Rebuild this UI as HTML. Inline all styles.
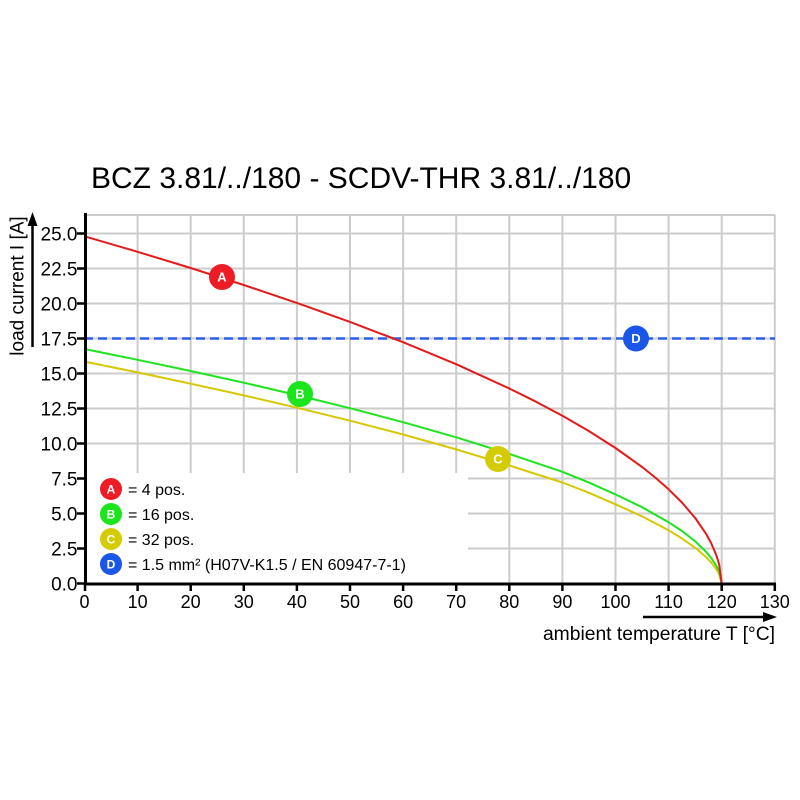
<!DOCTYPE html>
<html><head><meta charset="utf-8"><style>
html,body{margin:0;padding:0;background:#fff;}
svg{display:block;font-family:"Liberation Sans",Arial,sans-serif;}
</style></head><body>
<svg width="800" height="800" viewBox="0 0 800 800" xmlns="http://www.w3.org/2000/svg">
<rect width="800" height="800" fill="#fff"/>
<text x="91" y="188" font-size="30" fill="#000">BCZ 3.81/../180 - SCDV-THR 3.81/../180</text>
<g stroke="#cccccc" stroke-width="2" fill="none">
<line x1="84" y1="215" x2="775" y2="215"/>
<line x1="84" y1="233.5" x2="775" y2="233.5"/>
<line x1="84" y1="268.5" x2="775" y2="268.5"/>
<line x1="84" y1="303.5" x2="775" y2="303.5"/>
<line x1="84" y1="338.5" x2="775" y2="338.5"/>
<line x1="84" y1="373.5" x2="775" y2="373.5"/>
<line x1="84" y1="408.5" x2="775" y2="408.5"/>
<line x1="84" y1="443.5" x2="775" y2="443.5"/>
<line x1="468" y1="478.5" x2="775" y2="478.5"/>
<line x1="468" y1="513.5" x2="775" y2="513.5"/>
<line x1="468" y1="548.5" x2="775" y2="548.5"/>
<line x1="137.6" y1="215" x2="137.6" y2="473"/>
<line x1="190.7" y1="215" x2="190.7" y2="473"/>
<line x1="243.8" y1="215" x2="243.8" y2="473"/>
<line x1="296.9" y1="215" x2="296.9" y2="473"/>
<line x1="350" y1="215" x2="350" y2="473"/>
<line x1="403.1" y1="215" x2="403.1" y2="473"/>
<line x1="456.2" y1="215" x2="456.2" y2="473"/>
<line x1="509.3" y1="215" x2="509.3" y2="584"/>
<line x1="562.4" y1="215" x2="562.4" y2="584"/>
<line x1="615.5" y1="215" x2="615.5" y2="584"/>
<line x1="668.6" y1="215" x2="668.6" y2="584"/>
<line x1="721.7" y1="215" x2="721.7" y2="584"/>
<line x1="774.8" y1="215" x2="774.8" y2="584"/>
</g>
<line x1="84" y1="338.5" x2="775" y2="338.5" stroke="#2a5ee8" stroke-width="2.5" stroke-dasharray="9,5"/>
<polyline fill="none" stroke="#d6c800" stroke-width="2" stroke-linejoin="round" points="84.5,361.6 137.6,372.4 190.7,383.7 243.8,395.4 296.9,407.7 350,420.7 403.1,434.5 456.2,449.4 509.3,465.5 562.4,482.5 589,492.8 615.5,504.3 642.1,516.4 668.6,530.3 681.9,538.4 695.2,547.8 705.8,556.9 711.1,562.4 716.4,569.3 719.1,574.0 721.7,583.5"/>
<polyline fill="none" stroke="#1ee41e" stroke-width="2" stroke-linejoin="round" points="84.5,349.0 137.6,359.8 190.7,371.0 243.8,382.7 296.9,395.1 350,408.2 403.1,422.2 456.2,437.3 509.3,453.9 562.4,471.8 589,482.6 615.5,494.4 642.1,507.2 668.6,522.2 681.9,531.0 695.2,541.3 705.8,551.5 711.1,557.8 716.4,565.8 719.1,571.3 721.7,583.5"/>
<polyline fill="none" stroke="#e41a1a" stroke-width="2" stroke-linejoin="round" points="84.5,236.3 137.6,251.8 190.7,268.0 243.8,285.0 296.9,302.9 350,321.9 403.1,342.2 456.2,364.2 509.3,388.5 536,401.7 562.4,415.8 589,431.1 615.5,448.0 642.1,467.0 655.4,477.6 668.6,489.3 681.9,502.5 695.2,518.0 705.8,533.4 711.1,543.0 716.4,555.4 719.1,564.0 721.7,583.5"/>
<g font-weight="bold" font-size="13" fill="#fff" text-anchor="middle">
<circle cx="222" cy="277" r="13" fill="#ee1c25"/><text x="222" y="281.5">A</text>
<circle cx="300" cy="394" r="13" fill="#1be51b"/><text x="300" y="398.5">B</text>
<circle cx="498" cy="459" r="13" fill="#d4cc00"/><text x="498" y="463.5">C</text>
<circle cx="636" cy="338.5" r="13" fill="#1a56e8"/><text x="636" y="343">D</text>
</g>
<g font-weight="bold" font-size="12" fill="#fff" text-anchor="middle">
<circle cx="111" cy="489" r="11" fill="#ee1c25"/><text x="111" y="493.3">A</text>
<circle cx="111" cy="514" r="11" fill="#1be51b"/><text x="111" y="518.3">B</text>
<circle cx="111" cy="539" r="11" fill="#d4cc00"/><text x="111" y="543.3">C</text>
<circle cx="111" cy="564" r="11" fill="#1a56e8"/><text x="111" y="568.3">D</text>
</g>
<g font-size="16" fill="#000">
<text x="128" y="495">= 4 pos.</text>
<text x="128" y="520">= 16 pos.</text>
<text x="128" y="545">= 32 pos.</text>
<text x="128" y="570">= 1.5 mm² (H07V-K1.5 / EN 60947-7-1)</text>
</g>
<g stroke="#000" stroke-width="3" fill="none">
<line x1="85.5" y1="213" x2="85.5" y2="585.5"/>
<line x1="84" y1="584" x2="776" y2="584"/>
</g>
<g stroke="#000" stroke-width="2.5">
<line x1="77" y1="233.5" x2="85" y2="233.5"/>
<line x1="77" y1="268.5" x2="85" y2="268.5"/>
<line x1="77" y1="303.5" x2="85" y2="303.5"/>
<line x1="77" y1="338.5" x2="85" y2="338.5"/>
<line x1="77" y1="373.5" x2="85" y2="373.5"/>
<line x1="77" y1="408.5" x2="85" y2="408.5"/>
<line x1="77" y1="443.5" x2="85" y2="443.5"/>
<line x1="77" y1="478.5" x2="85" y2="478.5"/>
<line x1="77" y1="513.5" x2="85" y2="513.5"/>
<line x1="77" y1="548.5" x2="85" y2="548.5"/>
<line x1="77" y1="583.5" x2="85" y2="583.5"/>
<line x1="85" y1="584" x2="85" y2="591"/>
<line x1="137.6" y1="584" x2="137.6" y2="591"/>
<line x1="190.7" y1="584" x2="190.7" y2="591"/>
<line x1="243.8" y1="584" x2="243.8" y2="591"/>
<line x1="296.9" y1="584" x2="296.9" y2="591"/>
<line x1="350" y1="584" x2="350" y2="591"/>
<line x1="403.1" y1="584" x2="403.1" y2="591"/>
<line x1="456.2" y1="584" x2="456.2" y2="591"/>
<line x1="509.3" y1="584" x2="509.3" y2="591"/>
<line x1="562.4" y1="584" x2="562.4" y2="591"/>
<line x1="615.5" y1="584" x2="615.5" y2="591"/>
<line x1="668.6" y1="584" x2="668.6" y2="591"/>
<line x1="721.7" y1="584" x2="721.7" y2="591"/>
<line x1="774.8" y1="584" x2="774.8" y2="591"/>
</g>
<g font-size="19" fill="#000" text-anchor="end">
<text x="77.5" y="240.5">25.0</text>
<text x="77.5" y="275.5">22.5</text>
<text x="77.5" y="310.5">20.0</text>
<text x="77.5" y="345.5">17.5</text>
<text x="77.5" y="380.5">15.0</text>
<text x="77.5" y="415.5">12.5</text>
<text x="77.5" y="450.5">10.0</text>
<text x="77.5" y="485.5">7.5</text>
<text x="77.5" y="520.5">5.0</text>
<text x="77.5" y="555.5">2.5</text>
<text x="77.5" y="590.5">0.0</text>
</g>
<g font-size="18" fill="#000" text-anchor="middle">
<text x="84.5" y="608">0</text>
<text x="137.6" y="608">10</text>
<text x="190.7" y="608">20</text>
<text x="243.8" y="608">30</text>
<text x="296.9" y="608">40</text>
<text x="350" y="608">50</text>
<text x="403.1" y="608">60</text>
<text x="456.2" y="608">70</text>
<text x="509.3" y="608">80</text>
<text x="562.4" y="608">90</text>
<text x="615.5" y="608">100</text>
<text x="668.6" y="608">110</text>
<text x="721.7" y="608">120</text>
<text x="774.8" y="608">130</text>
</g>
<line x1="32.5" y1="347" x2="32.5" y2="222" stroke="#000" stroke-width="2.5"/>
<polygon points="32.5,212 27.5,226 37.5,226" fill="#000"/>
<text transform="translate(23.5,286) rotate(-90)" font-size="19" text-anchor="middle" fill="#000">load current I [A]</text>
<line x1="643" y1="617" x2="766" y2="617" stroke="#000" stroke-width="2.5"/>
<polygon points="777,617 763,612 763,622" fill="#000"/>
<text x="775" y="640" font-size="19.3" text-anchor="end" fill="#000">ambient temperature T [°C]</text>
</svg>
</body></html>
